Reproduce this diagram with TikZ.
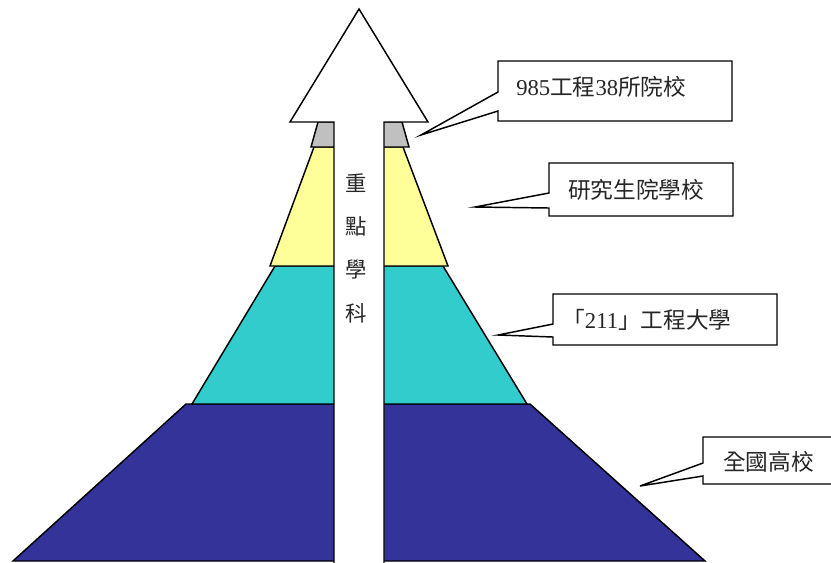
\documentclass[tikz,border=0pt]{standalone}
\usepackage{fontspec}
\setmainfont{Liberation Serif}
\newfontfamily\cjk{Noto Sans CJK TC}
\definecolor{tierdark}{HTML}{333399}
\definecolor{tierteal}{HTML}{33CCCC}
\definecolor{tieryellow}{HTML}{FFFF99}
\definecolor{tiergrey}{HTML}{C0C0C0}
\begin{document}
\begin{tikzpicture}[x=0.75pt,y=-0.75pt,
  tier/.style={draw=black,line width=1.1pt,line join=miter},
  outline/.style={draw=black,line width=1.1pt,fill=white,line join=miter},
  label/.style={inner sep=0pt,anchor=west,text=black!85,font=\fontsize{17}{19}\selectfont}]
\useasboundingbox (0,0) rectangle (831,562);
% tiers
\draw[tier,fill=tierdark] (13,561) -- (186,404) -- (530,404) -- (705,561) -- cycle;
\draw[tier,fill=tierteal] (192,404) -- (275,266) -- (443,266) -- (527,404) -- cycle;
\draw[tier,fill=tieryellow] (270,266) -- (314,147) -- (403,147) -- (448,266) -- cycle;
\draw[tier,fill=tiergrey] (311,147) -- (318,122) -- (402,122) -- (409,147) -- cycle;
% arrow
\draw[outline] (334,563) -- (334,122) -- (290,122) -- (359,9) -- (428,122) -- (384,122) -- (384,563);
\node[inner sep=0pt,align=center,text=black!85,font=\cjk\fontsize{16}{32.5}\selectfont] (axis) at (356,248) {重\\點\\學\\科};
% callouts
\draw[outline] (498,61) -- (732,61) -- (732,121) -- (498,121) -- (498,111) -- (421,135) -- (498,92) -- cycle;
\node[label] (c1) at (516,87) {985{\cjk 工程}38{\cjk 所院校}};
\draw[outline] (549,163) -- (733,163) -- (733,216) -- (549,216) -- (549,208) -- (475,207) -- (549,193) -- cycle;
\node[label] (c2) at (568,190) {\cjk 研究生院學校};
\draw[outline] (553,294) -- (777,294) -- (777,345) -- (553,345) -- (553,337) -- (498,335) -- (553,324) -- cycle;
\node[label] (c3) at (562,320) {{\cjk 「}211{\cjk 」工程大學}};
\draw[outline] (703,437) -- (840,437) -- (840,484) -- (703,484) -- (703,476) -- (640,486) -- (703,463) -- cycle;
\node[label] (c4) at (723,462) {\cjk 全國高校};
\end{tikzpicture}
\end{document}
